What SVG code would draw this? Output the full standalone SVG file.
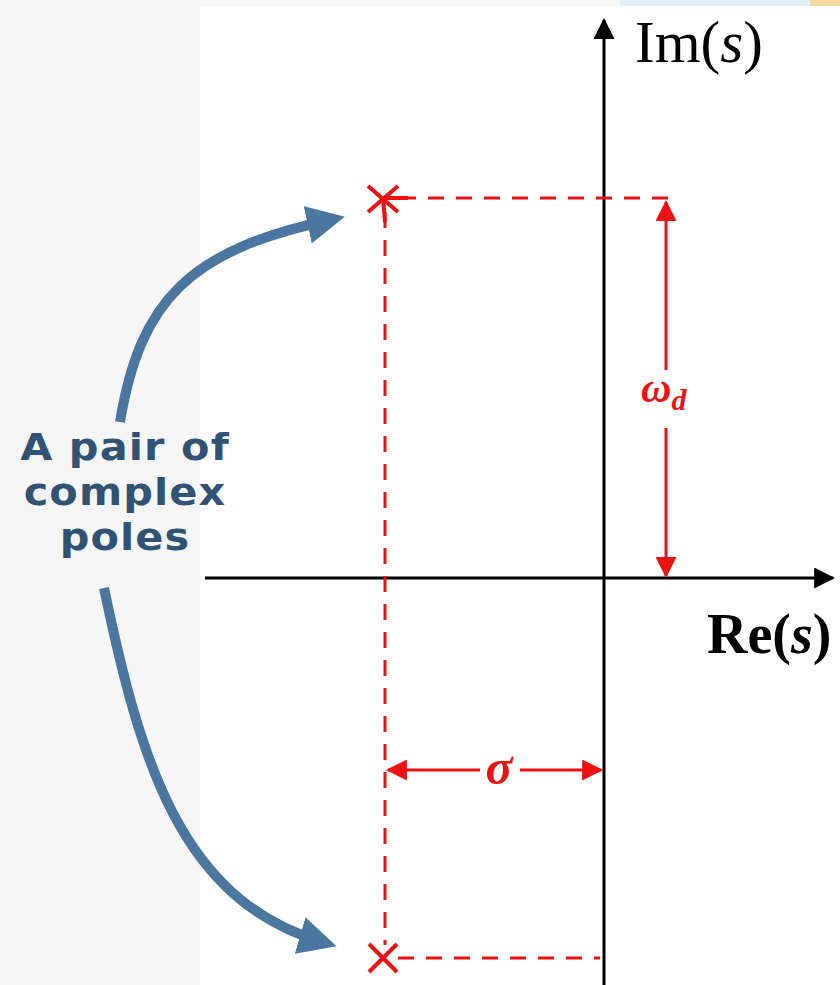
<svg xmlns="http://www.w3.org/2000/svg" width="840" height="985" viewBox="0 0 840 985">
<defs>
<style>
.axis{stroke:#000;stroke-width:3;fill:none}
.dash{stroke:#ee1111;stroke-width:3;fill:none;stroke-dasharray:16 12}
.red{stroke:#ee1111;stroke-width:3;fill:none}
.pole{stroke:#ee1111;stroke-width:4;fill:none}
.blue{stroke:#4a76a0;stroke-width:10;fill:none}
.lbl{font-family:"DejaVu Sans",sans-serif;font-weight:bold;font-size:37px;letter-spacing:1px;fill:#2f5275;text-anchor:middle}
.serif{font-family:"Liberation Serif",serif;fill:#000}
</style>
<marker id="ah" viewBox="0 0 10 10" refX="9" refY="5" markerWidth="7" markerHeight="7" markerUnits="strokeWidth" orient="auto"><path d="M0,0L10,5L0,10z" fill="#000"/></marker>
<marker id="rh" viewBox="0 0 10 10" refX="9" refY="5" markerWidth="8" markerHeight="7" markerUnits="strokeWidth" orient="auto-start-reverse"><path d="M0,0L10,5L0,10z" fill="#ee1111"/></marker>
<marker id="bh" viewBox="0 0 10 10" refX="6" refY="5" markerWidth="3.8" markerHeight="3.8" orient="auto"><path d="M0,0L10,5L0,10z" fill="#4a76a0"/></marker>
</defs>
<rect x="0" y="0" width="840" height="985" fill="#f6f6f6"/>
<rect x="620" y="0" width="190" height="6" fill="#e3eef7"/>
<rect x="810" y="0" width="30" height="6" fill="#f5d9a0"/>
<rect x="200" y="6" width="640" height="979" fill="#ffffff"/>
<g id="axes">
<line class="axis" x1="604" y1="985" x2="604" y2="20" marker-end="url(#ah)"/>
<line class="axis" x1="205" y1="578" x2="833" y2="578" marker-end="url(#ah)"/>
<text class="serif" x="635" y="62" font-size="59">Im(<tspan font-style="italic">s</tspan>)</text>
<text class="serif" x="707" y="653" font-size="56" font-weight="bold">Re(<tspan font-style="italic">s</tspan>)</text>
</g>
<g id="guides">
<line class="dash" x1="400" y1="198" x2="680" y2="198"/>
<line class="dash" x1="385" y1="212" x2="385" y2="945"/>
<line class="dash" x1="398" y1="958" x2="600" y2="958"/>
</g>
<g id="pole-top">
<line class="pole" x1="368" y1="186" x2="398" y2="212"/>
<line class="pole" x1="368" y1="212" x2="398" y2="186"/>
<line class="pole" x1="383" y1="198" x2="408" y2="198"/>
<line class="pole" x1="383" y1="198" x2="385" y2="222"/>
</g>
<g id="pole-bottom">
<line class="pole" x1="369" y1="944" x2="397" y2="972"/>
<line class="pole" x1="369" y1="972" x2="397" y2="944"/>
</g>
<g id="omega">
<line class="red" x1="666" y1="202" x2="666" y2="370" marker-start="url(#rh)"/>
<line class="red" x1="666" y1="428" x2="666" y2="576" marker-end="url(#rh)"/>
<text x="641" y="402" font-family="Liberation Serif,serif" font-style="italic" font-weight="bold" font-size="42" fill="#ee1111">ω<tspan font-size="30" dy="8">d</tspan></text>
</g>
<g id="sigma">
<line class="red" x1="388" y1="770" x2="480" y2="770" marker-start="url(#rh)"/>
<line class="red" x1="520" y1="770" x2="601" y2="770" marker-end="url(#rh)"/>
<text x="499" y="784" font-family="Liberation Serif,serif" font-style="italic" font-weight="bold" font-size="50" fill="#ee1111" text-anchor="middle">σ</text>
</g>
<g id="connectors">
<path class="blue" d="M120,422 C140,300 190,250 330,220" marker-end="url(#bh)"/>
<path class="blue" d="M104,588 C140,760 180,900 322,942" marker-end="url(#bh)"/>
</g>
<g id="label" transform="translate(125,0) scale(1.12,1)">
<text class="lbl" x="0" y="460">A pair of</text>
<text class="lbl" x="0" y="505">complex</text>
<text class="lbl" x="0" y="550">poles</text>
</g>
</svg>
